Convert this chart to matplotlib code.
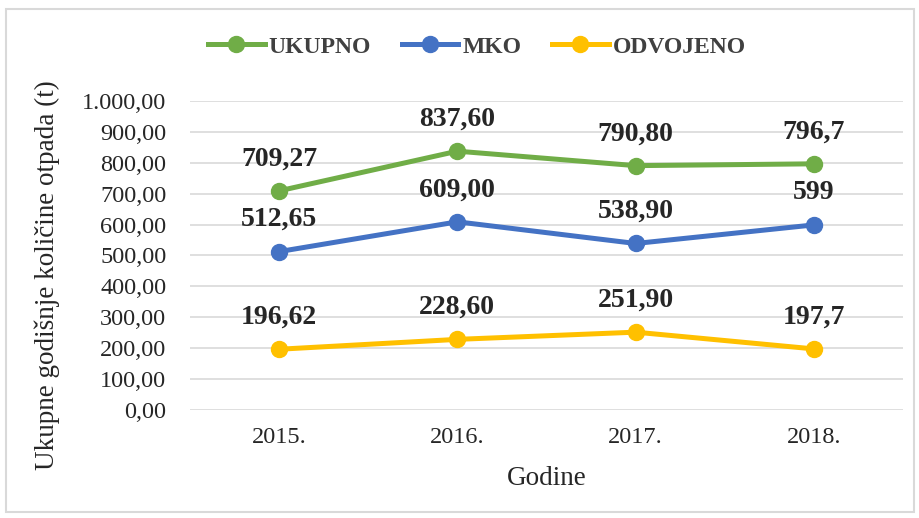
import matplotlib.pyplot as plt
from matplotlib.patches import Rectangle

years = ['2015.', '2016.', '2017.', '2018.']
ukupno = [709.27, 837.60, 790.80, 796.7]
mko = [512.65, 609.00, 538.90, 599]
odvojeno = [196.62, 228.60, 251.90, 197.7]

ukupno_lbl = ['709,27', '837,60', '790,80', '796,7']
mko_lbl = ['512,65', '609,00', '538,90', '599']
odvojeno_lbl = ['196,62', '228,60', '251,90', '197,7']

plt.rcParams['font.family'] = ['Liberation Serif', 'DejaVu Serif']

fig = plt.figure(figsize=(9.19, 5.18), dpi=100)
W, H = 919, 518
ax = fig.add_axes([190 / W, 1 - 410 / H, (903 - 190) / W, (410 - 101) / H])

# outer frame of the chart
fig.patches.append(Rectangle((6 / W, 6 / H), 908 / W, 503 / H, transform=fig.transFigure,
                             fill=False, edgecolor='#d9d9d9', linewidth=1.5))

x = range(len(years))
series = [
    (ukupno, ukupno_lbl, '#70AD47', 'UKUPNO'),
    (mko, mko_lbl, '#4472C4', 'MKO'),
    (odvojeno, odvojeno_lbl, '#FFC000', 'ODVOJENO'),
]
for vals, lbls, col, name in series:
    ax.plot(x, vals, color=col, linewidth=3.6, marker='o', markersize=11.5, label=name, zorder=3)
    for xi, v, t in zip(x, vals, lbls):
        ax.annotate(t, (xi, v), xytext=(0, 14), textcoords='offset points',
                    ha='center', va='bottom', fontsize=20, fontweight='bold', color='#262626')

ax.set_xlim(-0.5, 3.5)
ax.set_ylim(0, 1000)
ax.set_yticks(range(0, 1001, 100))
ax.set_yticklabels(['{:,.2f}'.format(v).replace(',', 'X').replace('.', ',').replace('X', '.')
                    for v in range(0, 1001, 100)])
ax.set_xticks(list(x))
ax.set_xticklabels(years)
ax.tick_params(axis='both', length=0, labelsize=17.5, colors='#262626')
ax.tick_params(axis='x', pad=12)
ax.tick_params(axis='y', pad=17)
ax.grid(axis='y', color='#d9d9d9', linewidth=1.2)
ax.set_axisbelow(True)
for s in ax.spines.values():
    s.set_visible(False)

ax.set_ylabel('Ukupne godišnje količine otpada (t)', fontsize=19.5, color='#262626')
ax.yaxis.set_label_coords(-0.182, 0.437)
ax.set_xlabel('Godine', fontsize=19.5, color='#262626')
ax.xaxis.set_label_coords(0.5, -0.181)

fig.legend(loc='center', bbox_to_anchor=(477 / W, 1 - 47 / H), ncol=3, frameon=False,
           prop={'size': 17, 'weight': 'bold'}, handlelength=2.4, columnspacing=1.3,
           handletextpad=0.17, labelcolor='#404040')

fig.savefig('out.png', dpi=100)
